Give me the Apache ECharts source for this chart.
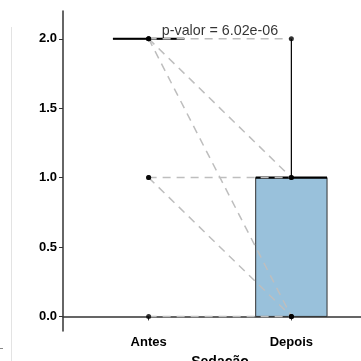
<!DOCTYPE html>
<html>
<head>
<meta charset="utf-8">
<script src="https://cdn.jsdelivr.net/npm/echarts@6/dist/echarts.min.js"></script>
<style>
  html, body { margin: 0; padding: 0; background: #fff; }
  #chart { width: 361px; height: 361px; }
</style>
</head>
<body>
<div id="chart"></div>
<script>
// Sedation score per patient, before and after
const categories = ['Antes', 'Depois'];
const antes  = [2, 2, 2, 1, 1, 0];
const depois = [2, 1, 0, 1, 0, 0];

// Box statistics: [min whisker, Q1, median, Q3, max whisker]
const boxAntes  = [2, 2, 2, 2, 2];
const boxDepois = [0, 0, 1, 1, 2];

const yTicks = [0, 0.5, 1, 1.5, 2];
const pLabel = 'p-valor = 6.02e-06';

const chart = echarts.init(document.getElementById('chart'));

// one dashed segment per patient pair
const pairSeries = antes.map((a, i) => ({
  type: 'line',
  data: [[1, a], [2, depois[i]]],
  symbol: 'none',
  silent: true,
  z: 3,
  lineStyle: { color: '#BEBEBE', width: 1.5, type: [8, 6] }
}));

const points = [];
antes.forEach(v => points.push([1, v]));
depois.forEach(v => points.push([2, v]));

const boxData = [
  [1].concat(boxAntes),
  [2].concat(boxDepois)
];

chart.setOption({
  animation: false,
  backgroundColor: '#ffffff',
  grid: { left: 63, right: -16, top: 11, bottom: 30, outerBoundsMode: 'none', containLabel: false },
  xAxis: {
    type: 'value',
    min: 0.4,
    max: 2.6,
    splitLine: { show: false },
    axisLine: { lineStyle: { color: '#333333', width: 1.5 } },
    axisTick: { show: true, length: 4, customValues: [1, 2], lineStyle: { color: '#333333', width: 1 } },
    axisLabel: {
      customValues: [1, 2],
      formatter: v => categories[Math.round(v) - 1],
      color: '#000', fontWeight: 'bold', fontSize: 13,
      fontFamily: 'Liberation Sans, Arial, sans-serif', margin: 5
    },
    name: 'Sedação',
    nameLocation: 'middle',
    nameGap: 24,
    nameTextStyle: {
      color: '#000', fontWeight: 'bold', fontSize: 14, verticalAlign: 'top',
      fontFamily: 'Liberation Sans, Arial, sans-serif'
    }
  },
  yAxis: {
    type: 'value',
    min: -0.105,
    max: 2.2,
    splitLine: { show: false },
    axisLine: { show: true, lineStyle: { color: '#333333', width: 1.5 } },
    axisTick: { show: true, length: 4, customValues: yTicks, lineStyle: { color: '#333333', width: 1 } },
    axisLabel: {
      customValues: yTicks,
      formatter: v => v.toFixed(1),
      color: '#000', fontWeight: 'bold', fontSize: 13,
      fontFamily: 'Liberation Sans, Arial, sans-serif', margin: 6
    }
  },
  graphic: [
    { type: 'line', shape: { x1: 11.5, y1: 27, x2: 11.5, y2: 361 }, style: { stroke: '#e3e3e3', lineWidth: 1 }, silent: true },
    { type: 'line', shape: { x1: 0, y1: 348.5, x2: 3, y2: 348.5 }, style: { stroke: '#888', lineWidth: 1 }, silent: true }
  ],
  series: [
    {
      type: 'custom',
      z: 2,
      silent: true,
      data: boxData,
      renderItem: function (params, api) {
        const x = api.value(0);
        const lo = api.value(1), q1 = api.value(2), med = api.value(3), q3 = api.value(4), hi = api.value(5);
        const half = 0.25;
        const pL = api.coord([x - half, q3]);
        const pR = api.coord([x + half, q1]);
        const c = api.coord([x, 0]);
        const yLo = api.coord([x, lo])[1], yQ1 = api.coord([x, q1])[1];
        const yQ3 = api.coord([x, q3])[1], yHi = api.coord([x, hi])[1];
        const yMed = api.coord([x, med])[1];
        return {
          type: 'group',
          children: [
            { type: 'line', shape: { x1: c[0], y1: yQ3, x2: c[0], y2: yHi }, style: { stroke: '#000', lineWidth: 1.2 } },
            { type: 'line', shape: { x1: c[0], y1: yQ1, x2: c[0], y2: yLo }, style: { stroke: '#000', lineWidth: 1.2 } },
            { type: 'rect', shape: { x: pL[0], y: pL[1], width: pR[0] - pL[0], height: pR[1] - pL[1] },
              style: { fill: '#99C1DB', stroke: '#333333', lineWidth: 1 } },
            { type: 'line', shape: { x1: pL[0], y1: yMed, x2: pR[0], y2: yMed }, style: { stroke: '#000', lineWidth: 2.2 } }
          ]
        };
      }
    },
    ...pairSeries,
    {
      type: 'scatter',
      data: points,
      symbol: 'circle',
      symbolSize: 5,
      z: 4,
      silent: true,
      itemStyle: { color: '#000' }
    },
    {
      type: 'scatter',
      data: [[1.5, 2]],
      symbolSize: 0,
      z: 5,
      silent: true,
      label: {
        show: true,
        position: 'top',
        distance: 1,
        formatter: pLabel,
        color: '#000',
        fontSize: 14.3,
        fontFamily: 'Liberation Sans, Arial, sans-serif'
      }
    }
  ]
});
</script>
</body>
</html>
